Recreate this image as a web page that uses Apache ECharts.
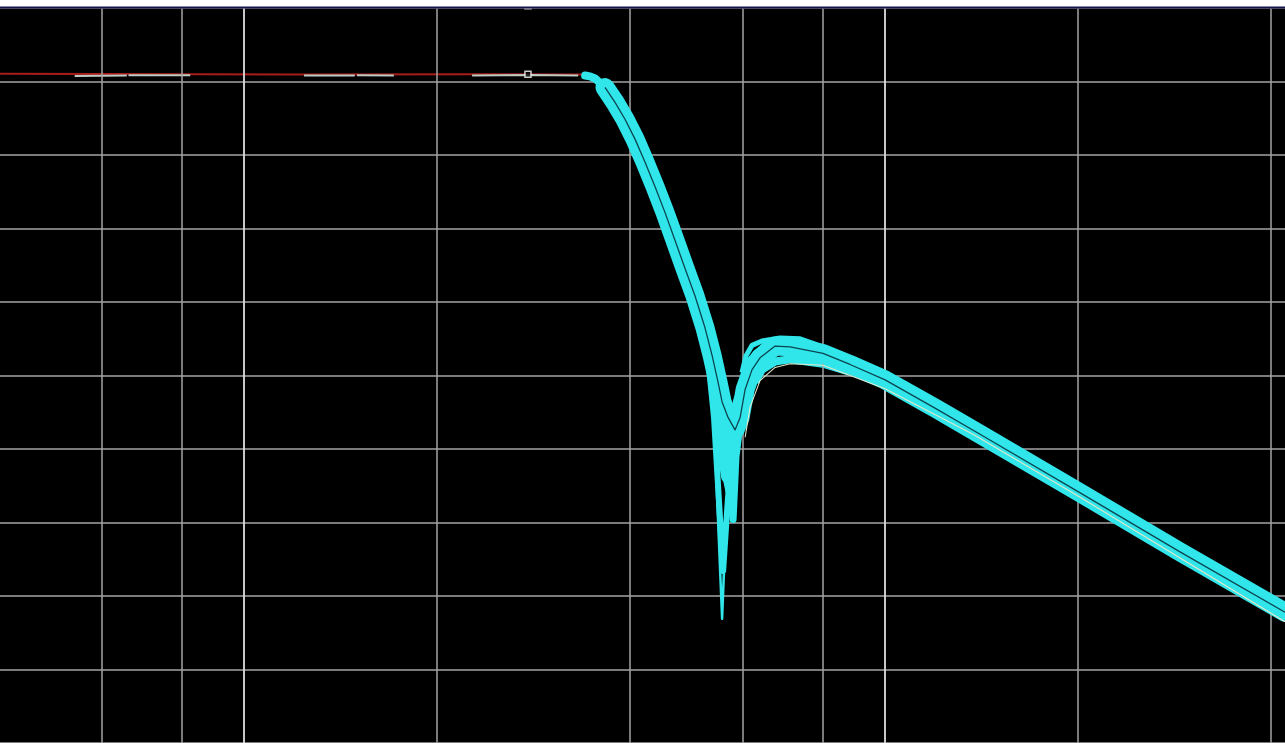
<!DOCTYPE html>
<html>
<head>
<meta charset="utf-8">
<style>
  html, body { margin: 0; padding: 0; background: #000; }
  #chart { width: 1285px; height: 743px; }
</style>
<script src="https://cdn.jsdelivr.net/npm/echarts@6/dist/echarts.min.js"></script>
</head>
<body>
<div id="chart"></div>
<script>
// frequency grid lines (Hz), log scale
var gridFreqs = [150, 200, 500, 1000, 1500, 2000, 5000, 10000];
var brightFreqs = [250, 2500];

// flat reference (red)
var refFreq = [104, 300, 600, 860];
var refDb = [1.05, 0.95, 1.0, 0.95];

// grey segments of the trace in the pass band
var flatSegFreq = [[136, 164], [165, 206], [310, 372], [375, 428], [567, 700, 830]];
var flatSegDb = [[0.75, 0.8], [0.85, 0.85], [0.8, 0.8], [0.85, 0.8], [0.8, 0.9, 0.8]];

// start of the roll-off (narrow part)
var startFreq = [851, 866, 882, 914, 947.5];
var startDb = [0.81, 0.7, 0.41, -0.81, -2.84];

// main band (centre of the cyan bundle)
var bandFreq = [914, 947.5, 982, 1018, 1055, 1094, 1134, 1175.5, 1218, 1263, 1309, 1343, 1372, 1392, 1422, 1458, 1485, 1512, 1550, 1595, 1684, 1777, 2000, 2204, 2500, 3000, 3516, 5000, 7211, 10515];
var bandDb = [-0.81, -2.84, -5.14, -7.84, -10.95, -14.32, -17.84, -21.62, -25.41, -29.19, -33.51, -37.3, -40.95, -43.6, -45.7, -47.4, -45.7, -41.9, -39.2, -37.6, -36.0, -36.1, -37.0, -38.5, -40.6, -44.5, -48.0, -55.8, -64.0, -72.2];

// notch traces
var v1Freq = [1309, 1347, 1392, 1412, 1458, 1528, 1624];
var v1Db = [-33.5, -43.0, -73.1, -59.2, -45.7, -37.8, -35.5];
var v2Freq = [1309, 1352, 1397, 1422, 1474, 1550];
var v2Db = [-33.5, -45.7, -66.6, -56.5, -44.3, -37.6];
var v3Freq = [1323, 1372, 1432, 1448, 1463, 1495, 1550];
var v3Db = [-34.9, -48.4, -56.5, -59.6, -51.1, -44.3, -38.9];
var v4Freq = [1333, 1377, 1417, 1453, 1495, 1567];
var v4Db = [-36.2, -47.0, -53.8, -49.7, -42.3, -37.6];
var v5Freq = [1342, 1362, 1392, 1432, 1485];
var v5Db = [-37.6, -43.0, -51.1, -48.4, -43.0];

// upper and lower edges of the hump
var topFreq = [1495, 1517, 1550, 1606.5, 1714, 1842, 2000, 2500];
var topDb = [-39.6, -37.3, -35.9, -35.3, -34.9, -35.0, -36.1, -39.6];
var lowFreq = [1567, 1606, 1684, 1777, 2000, 2204];
var lowDb = [-40.9, -39.2, -38.1, -37.8, -38.4, -39.5];
var paleFreq = [1512, 1539, 1595, 1684, 1777, 2000, 2500, 3428, 5000, 10515];
var paleDb = [-48.4, -44.3, -40.7, -38.9, -38.4, -38.6, -41.8, -48.0, -56.4, -73.5];

// cursor markers
var markFreq = [693, 693];
var markDb = [1.0, 10.3];

function pairs(f, d) {
  return f.map(function (v, i) { return [v, d[i]]; });
}

function trace(f, d, color, width, z, cap) {
  return {
    type: 'line', data: pairs(f, d), z: z, showSymbol: false, silent: true,
    lineStyle: { color: color, width: width, join: 'round', cap: cap || 'butt' }
  };
}

var CYAN = '#30e6ea';
var myChart = echarts.init(document.getElementById('chart'));

var series = [];

// vertical grid lines
series.push({
  type: 'line', data: [], z: 1, silent: true,
  markLine: {
    silent: true, symbol: 'none', animation: false,
    label: { show: false },
    data: gridFreqs.map(function (f) { return { xAxis: f, lineStyle: { color: '#a4a4a4', width: 1.5, type: 'solid' } }; })
      .concat(brightFreqs.map(function (f) { return { xAxis: f, lineStyle: { color: '#dedede', width: 1.8, type: 'solid' } }; }))
  }
});

series.push(trace(refFreq, refDb, '#a81c1c', 2, 2));
for (var s = 0; s < flatSegFreq.length; s++) {
  series.push(trace(flatSegFreq[s], flatSegDb[s], '#bcccc4', 2, 3));
}

series.push(trace(startFreq, startDb, CYAN, 8, 4, 'round'));
series.push(trace(lowFreq, lowDb, CYAN, 8, 4));
series.push(trace(bandFreq, bandDb, CYAN, 19, 5, 'round'));
series.push(trace(v5Freq, v5Db, CYAN, 12, 5));
series.push(trace(v4Freq, v4Db, CYAN, 12, 5));
series.push(trace(v3Freq, v3Db, CYAN, 7, 5));
series.push(trace(v2Freq, v2Db, CYAN, 6, 5));
series.push(trace(v1Freq, v1Db, CYAN, 2.5, 5));
series.push(trace(topFreq, topDb, CYAN, 5, 5));

// dark and pale inner traces
series.push(trace(bandFreq, bandDb, '#0b4650', 1.3, 6));
series.push(trace(paleFreq, paleDb, '#dfe8cc', 1.1, 6));

series.push({
  type: 'scatter', data: pairs(markFreq, markDb), z: 8, clip: false, silent: true,
  symbol: 'rect', symbolSize: 6,
  itemStyle: { color: '#000', borderColor: '#ffffff', borderWidth: 1.5 }
});

var option = {
  backgroundColor: '#000',
  animation: false,
  grid: { left: 0, right: 0, top: 8, height: 740 },
  xAxis: {
    type: 'log', logBase: 10, min: 104, max: 10515,
    axisLine: { show: false }, axisTick: { show: false }, axisLabel: { show: false },
    splitLine: { show: false }, minorSplitLine: { show: false }
  },
  yAxis: {
    type: 'value', min: -90, max: 10, interval: 10,
    axisLine: { show: false }, axisTick: { show: false }, axisLabel: { show: false },
    splitLine: { show: true, lineStyle: { color: '#a4a4a4', width: 1.5 } }
  },
  graphic: [
    { type: 'rect', shape: { x: 0, y: 0, width: 1285, height: 7 }, style: { fill: '#ffffff' }, z: 100 },
    { type: 'line', shape: { x1: 0, y1: 7.5, x2: 1285, y2: 7.5 }, style: { stroke: '#16164e', lineWidth: 2 }, z: 100 }
  ],
  series: series
};

myChart.setOption(option);
</script>
</body>
</html>
